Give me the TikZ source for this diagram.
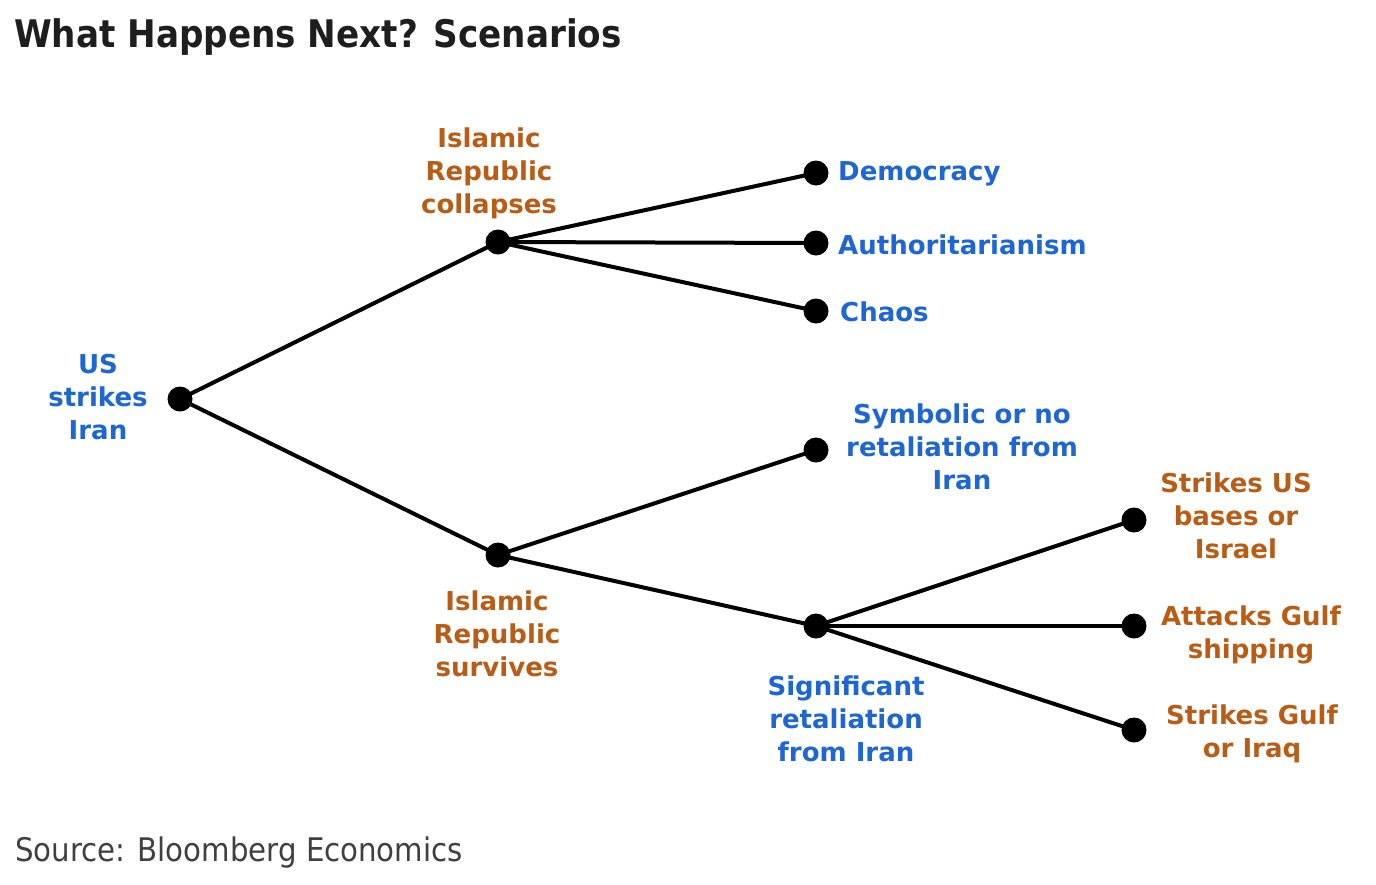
\documentclass[tikz,border=0pt]{standalone}
\usepackage{fontspec}
\setmainfont{DejaVu Sans}
\newfontfamily\titlefont{DejaVu Sans Condensed}
\definecolor{tblue}{RGB}{30,102,212}
\definecolor{torange}{RGB}{184,92,22}
\definecolor{ttext}{RGB}{30,30,30}
\begin{document}
\begin{tikzpicture}[x=1pt,y=-1pt,
  dot/.style={circle,fill=black,inner sep=0pt,minimum size=25pt},
  lbl/.style={align=center,inner sep=0pt,font=\bfseries\fontsize{26}{33}\selectfont},
  bl/.style={lbl,text=tblue},
  og/.style={lbl,text=torange},
  edge/.style={line width=4pt,black}]
\useasboundingbox (0,0) rectangle (1376,884);
\fill[white] (0,0) rectangle (1376,884);
\node[anchor=west,inner sep=0pt,text=ttext,font=\titlefont\bfseries\fontsize{38}{44}\selectfont] (title) at (14,37) {What Happens Next? Scenarios};
\node[anchor=west,inner sep=0pt,text=ttext!85!white,font=\titlefont\fontsize{32.5}{40}\selectfont] (src) at (15,853) {Source: Bloomberg Economics};
% dots
\node[dot] (us) at (180,399) {};
\node[dot] (irc) at (498,242) {};
\node[dot] (dem) at (816,173) {};
\node[dot] (aut) at (816,243) {};
\node[dot] (cha) at (816,311) {};
\node[dot] (irs) at (498,555) {};
\node[dot] (sym) at (816,450) {};
\node[dot] (sig) at (816,626) {};
\node[dot] (sus) at (1134,520) {};
\node[dot] (agf) at (1134,626) {};
\node[dot] (sgi) at (1134,730) {};
% edges
\draw[edge] (us.center) -- (irc.center);
\draw[edge] (us.center) -- (irs.center);
\draw[edge] (irc.center) -- (dem.center);
\draw[edge] (irc.center) -- (aut.center);
\draw[edge] (irc.center) -- (cha.center);
\draw[edge] (irs.center) -- (sym.center);
\draw[edge] (irs.center) -- (sig.center);
\draw[edge] (sig.center) -- (sus.center);
\draw[edge] (sig.center) -- (agf.center);
\draw[edge] (sig.center) -- (sgi.center);
% labels
\node[bl] (usl) at (98,397) {US\\strikes\\Iran};
\node[og] (ircl) at (489,173) {Islamic\\Republic\\collapses};
\node[bl,anchor=west] (deml) at (838,174) {Democracy};
\node[bl,anchor=west] (autl) at (838,245) {Authoritarianism};
\node[bl,anchor=west] (chal) at (840,312) {Chaos};
\node[bl] (syml) at (962,447) {Symbolic or no\\retaliation from\\Iran};
\node[og] (irsl) at (497,634) {Islamic\\Republic\\survives};
\node[bl] (sigl) at (846,719) {Significant\\retaliation\\from Iran};
\node[og] (susl) at (1236,516) {Strikes US\\bases or\\Israel};
\node[og] (agfl) at (1251,635) {Attacks Gulf\\shipping};
\node[og] (sgil) at (1252,734) {Strikes Gulf\\or Iraq};
\end{tikzpicture}
\end{document}
